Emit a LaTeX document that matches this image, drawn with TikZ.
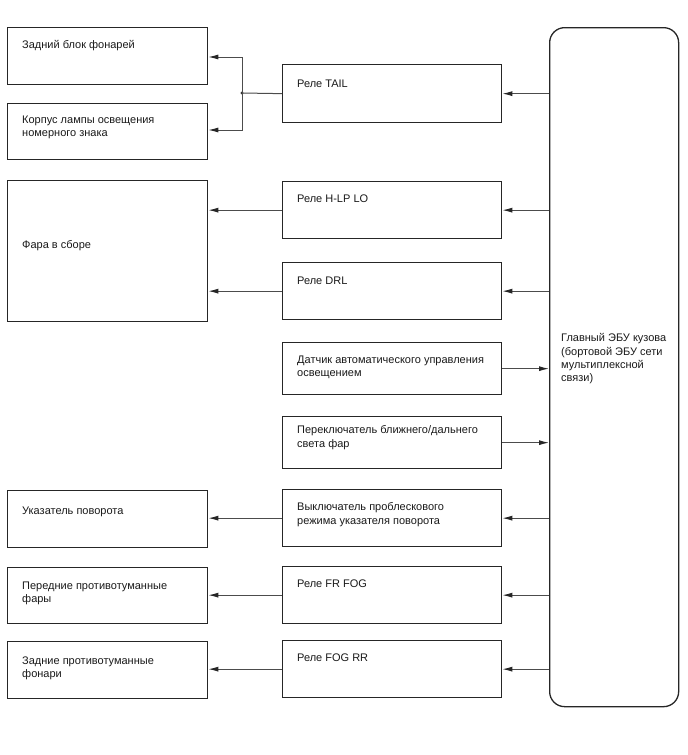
\documentclass[tikz,border=0pt]{standalone}
\usepackage{fontspec}
\setmainfont{Liberation Sans}
\usetikzlibrary{arrows.meta,calc}
\begin{document}
\begin{tikzpicture}[x=1pt,y=-1pt,
  box/.style={draw=black!85,line width=1.3pt,inner sep=0pt,anchor=north west},
  txt/.style={anchor=north west,inner sep=0pt,align=left,font=\fontsize{11}{13.3}\selectfont,text=black!90},
  conn/.style={draw=black!70,line width=1pt},
  arr/.style={conn,-{Latex[length=10pt,width=5pt,fill=black!85,color=black!85]}}]
\useasboundingbox (0,0) rectangle (688,755);
% left boxes
\node[box,minimum width=200pt,minimum height=57pt] (L1) at (7,27) {};
\node[box,minimum width=200pt,minimum height=56pt] (L2) at (7,103) {};
\node[box,minimum width=200pt,minimum height=141pt] (L3) at (7,180) {};
\node[box,minimum width=200pt,minimum height=57pt] (L4) at (7,490) {};
\node[box,minimum width=200pt,minimum height=56pt] (L5) at (7,567) {};
\node[box,minimum width=200pt,minimum height=57pt] (L6) at (7,641) {};
% middle boxes
\node[box,minimum width=219pt,minimum height=58pt] (M1) at (282,64) {};
\node[box,minimum width=219pt,minimum height=57pt] (M2) at (282,181) {};
\node[box,minimum width=219pt,minimum height=57pt] (M3) at (282,262) {};
\node[box,minimum width=219pt,minimum height=52pt] (M4) at (282,342) {};
\node[box,minimum width=219pt,minimum height=52pt] (M5) at (282,416) {};
\node[box,minimum width=219pt,minimum height=57pt] (M6) at (282,489) {};
\node[box,minimum width=219pt,minimum height=57pt] (M7) at (282,566) {};
\node[box,minimum width=219pt,minimum height=57pt] (M8) at (282,640) {};
% ECU
\node[box,rounded corners=15pt,minimum width=129pt,minimum height=679pt] (E) at (549,27) {};
% texts
\node[txt] (tL1) at (22,40.5) {Задний блок фонарей};
\node[txt] (tL2) at (22,115.5) {Корпус лампы освещения\\номерного знака};
\node[txt] (tL3) at (22,240.5) {Фара в сборе};
\node[txt] (tL4) at (22,506.5) {Указатель поворота};
\node[txt] (tL5) at (22,581.5) {Передние противотуманные\\фары};
\node[txt] (tL6) at (22,656.5) {Задние противотуманные\\фонари};
\node[txt] (tM1) at (297,79.5) {Реле TAIL};
\node[txt] (tM2) at (297,194.5) {Реле H-LP LO};
\node[txt] (tM3) at (297,276.5) {Реле DRL};
\node[txt] (tM4) at (297,355.5) {Датчик автоматического управления\\освещением};
\node[txt] (tM5) at (297,425.5) {Переключатель ближнего/дальнего\\света фар};
\node[txt] (tM6) at (297,502.5) {Выключатель проблескового\\режима указателя поворота};
\node[txt] (tM7) at (297,579.5) {Реле FR FOG};
\node[txt] (tM8) at (297,653.5) {Реле FOG RR};
\node[txt] (tE) at (561,333.5) {Главный ЭБУ кузова\\(бортовой ЭБУ сети\\мультиплексной\\связи)};
% connectors
\coordinate (J) at (242,93);
\draw[arr] (E.west |- M1.east) -- (M1.east);
\draw[conn] (M1.west) -- (J);
\fill[black!80] (J) circle (1.6pt);
\draw[arr] (J) |- (L1.east |- 0,57);
\draw[arr] (J) |- (L2.east |- 0,130);
\draw[arr] (E.west |- M2.east) -- (M2.east);
\draw[arr] (M2.west) -- (M2.west -| L3.east);
\draw[arr] (E.west |- M3.east) -- (M3.east);
\draw[arr] (M3.west) -- (M3.west -| L3.east);
\draw[arr] (M4.east) -- (M4.east -| E.west);
\draw[arr] (M5.east) -- (M5.east -| E.west);
\draw[arr] (E.west |- M6.east) -- (M6.east);
\draw[arr] (M6.west) -- (M6.west -| L4.east);
\draw[arr] (E.west |- M7.east) -- (M7.east);
\draw[arr] (M7.west) -- (M7.west -| L5.east);
\draw[arr] (E.west |- M8.east) -- (M8.east);
\draw[arr] (M8.west) -- (M8.west -| L6.east);
\end{tikzpicture}
\end{document}
